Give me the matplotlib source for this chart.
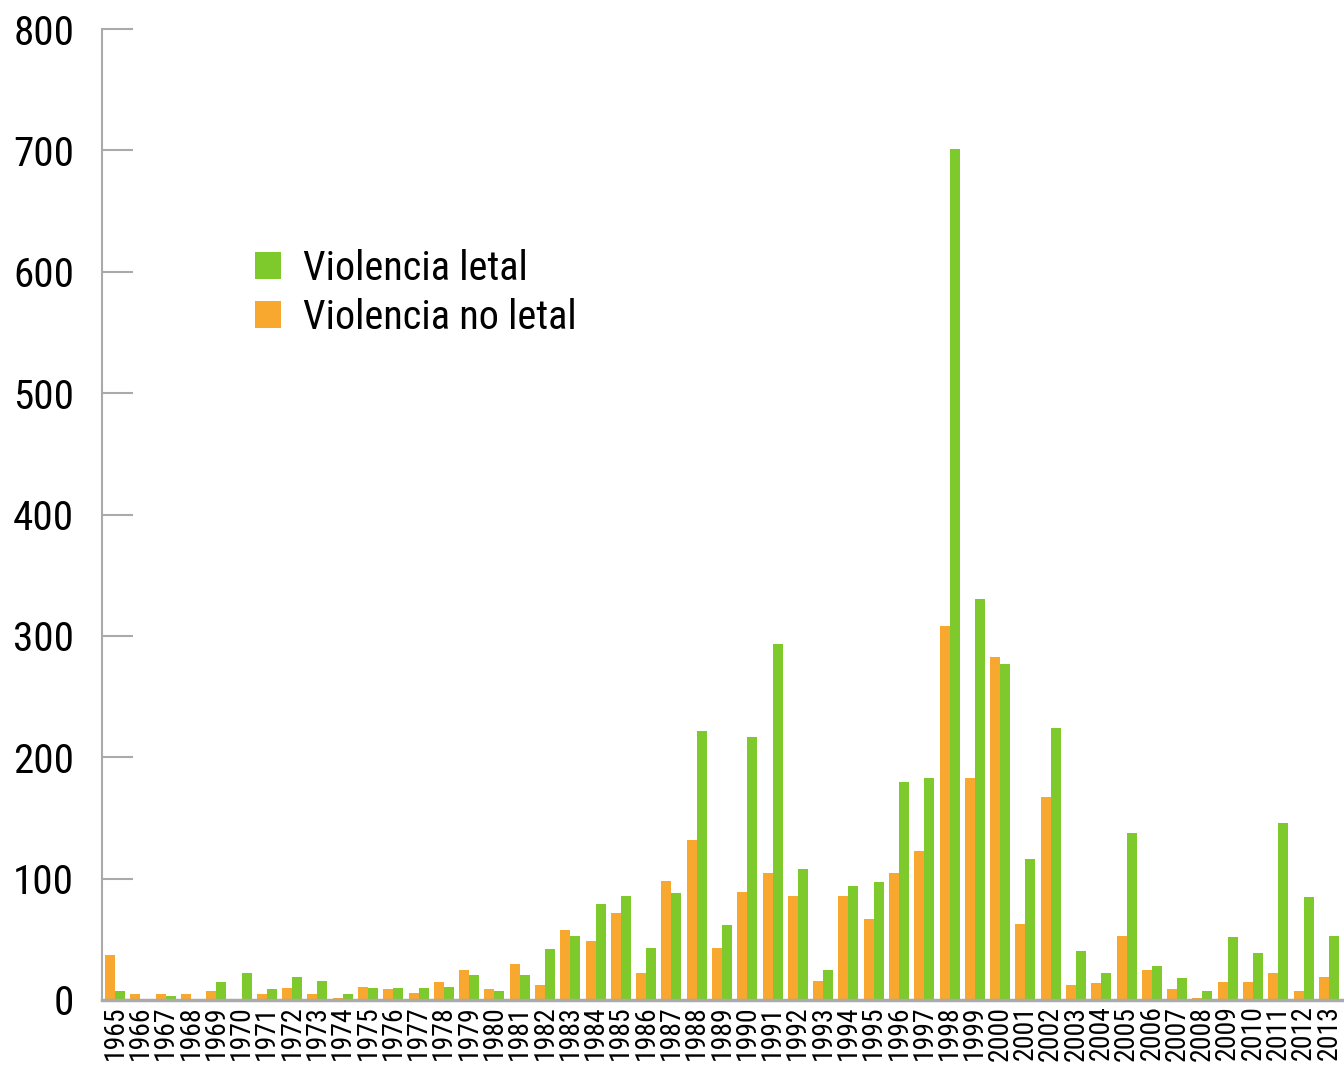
import numpy as np
import matplotlib.pyplot as plt
from matplotlib import font_manager

# data
years = list(range(1965, 2014))
letal = [7, 1, 3, 0, 15, 22, 9, 19, 16, 5, 10, 10, 10, 11, 21, 7, 21, 42, 53,
         79, 86, 43, 88, 222, 62, 217, 293, 108, 25, 94, 97, 180, 183, 701, 330,
         277, 116, 224, 40, 22, 138, 28, 18, 7, 52, 39, 146, 85, 53]
no_letal = [37, 5, 5, 5, 7, 0, 5, 10, 5, 2, 11, 9, 6, 15, 25, 9, 30, 12, 58,
            49, 72, 22, 98, 132, 43, 89, 105, 86, 16, 86, 67, 105, 123, 308, 183,
            283, 63, 167, 12, 14, 53, 25, 9, 2, 15, 15, 22, 7, 19]

green = '#7ec92b'
orange = '#f8a72f'
grey = '#aaaaaa'

# look for a narrow / condensed regular face
path = None
for key in ['LiberationSansNarrow-Regular', 'RobotoCondensed-Regular',
            'DejaVuSansCondensed.ttf', 'Condensed-Regular', 'Narrow-Regular']:
    for f in font_manager.fontManager.ttflist:
        if key in f.fname:
            path = f.fname
            break
    if path:
        break

if path:
    fp = font_manager.FontProperties(fname=path)
    scale = 1.0
else:
    fp = font_manager.FontProperties(family='DejaVu Sans')
    scale = 0.85

def prop(size):
    p = fp.copy()
    p.set_size(size * scale)
    return p

fig = plt.figure(figsize=(13.44, 10.67), dpi=100)
ax = fig.add_axes([0.0759, 0.0628, 0.9241, 0.91])

x = np.arange(len(years))
w = 0.395
ax.bar(x - w / 2, no_letal, w, color=orange, label='Violencia no letal')
ax.bar(x + w / 2, letal, w, color=green, label='Violencia letal')

ax.set_xlim(-0.52, 48.6)
ax.set_ylim(0, 800)
ax.set_yticks(range(0, 801, 100))
ax.set_xticks(x)
ax.set_xticklabels([str(y) for y in years], rotation=90)
for t in ax.get_xticklabels():
    t.set_fontproperties(prop(20))
for t in ax.get_yticklabels():
    t.set_fontproperties(prop(29.5))

for s in ['top', 'right']:
    ax.spines[s].set_visible(False)
ax.spines['left'].set_color(grey)
ax.spines['left'].set_linewidth(1.5)
ax.spines['bottom'].set_color(grey)
ax.spines['bottom'].set_linewidth(2.5)

ax.tick_params(axis='y', direction='in', length=22, width=1.5, color=grey, pad=20)
ax.tick_params(axis='x', length=0, pad=4)

handles, labels = ax.get_legend_handles_labels()
ax.legend(handles[::-1], labels[::-1], loc='upper left',
          bbox_to_anchor=(0.0936, 0.811), frameon=False, prop=prop(29),
          handlelength=0.65, handleheight=0.65, handletextpad=0.55,
          labelspacing=0.25)

fig.savefig('out.png', dpi=100)
